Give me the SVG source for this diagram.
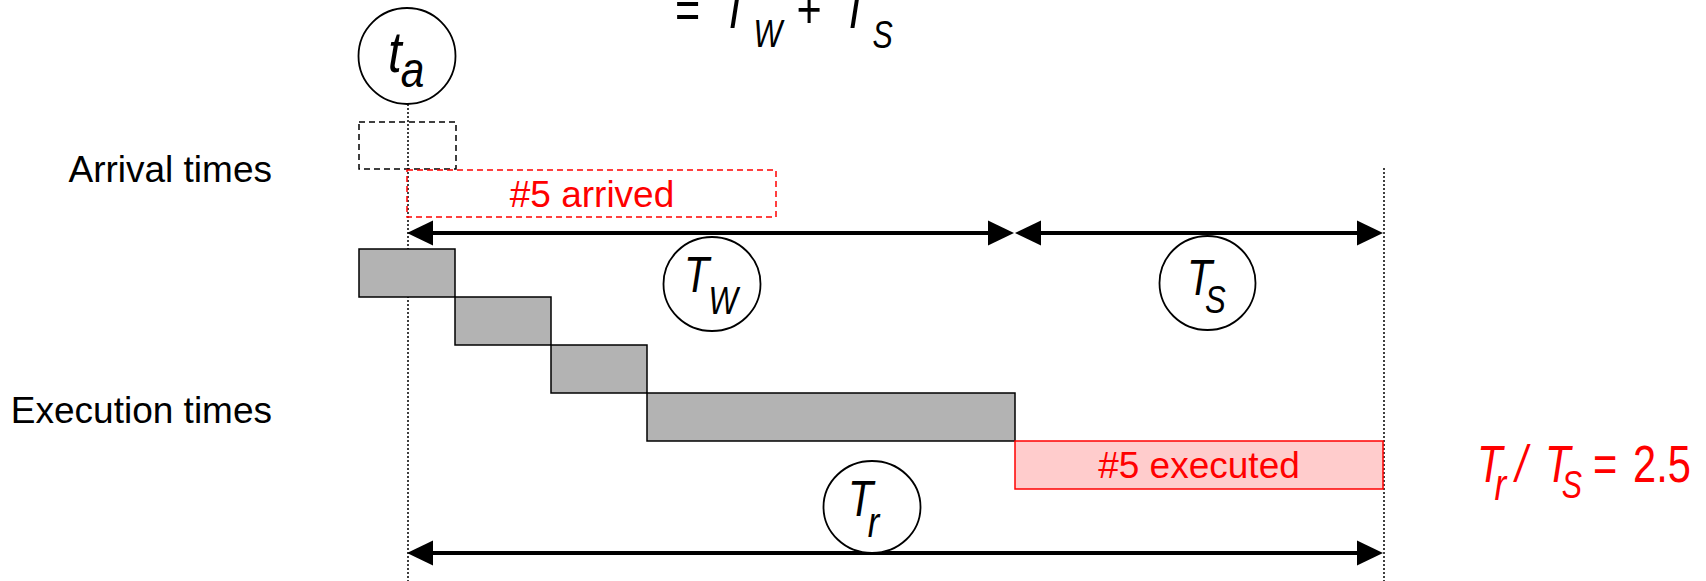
<svg xmlns="http://www.w3.org/2000/svg" width="1706" height="581" viewBox="0 0 1706 581">
<defs>
<style>
.lbl{font-family:"Liberation Sans",Arial,sans-serif;font-size:37px;fill:#000}
.math{font-family:"Liberation Sans",Arial,sans-serif;font-style:italic;fill:#000}
.up{font-style:normal}
.red{fill:#ff0000}
.bar{fill:#b3b3b3;stroke:#000;stroke-width:1.5}
.circ{fill:#fff;stroke:#000;stroke-width:1.8}
.dot{stroke:#000;stroke-width:1.5;stroke-dasharray:2,2;fill:none}
.arr{stroke:#000;stroke-width:4;fill:none;marker-start:url(#ah);marker-end:url(#ah)}
</style>
<marker id="ah" markerUnits="userSpaceOnUse" markerWidth="26" markerHeight="26" viewBox="0 0 26 26" refX="18" refY="13" orient="auto-start-reverse">
<path d="M0,0.5 L26,13 L0,25.5 Z" fill="#000"/>
</marker>
</defs>
<rect width="1706" height="581" fill="#fff"/>

<g id="guides">
<line class="dot" x1="408" y1="104" x2="408" y2="581"/>
<line class="dot" x1="1384" y1="168" x2="1384" y2="581"/>
</g>

<g id="formula-top">
<text class="math" transform="translate(675,28) scale(0.8,1)" font-size="54"><tspan class="up" x="0" y="0">=</tspan><tspan x="58" y="0">T</tspan><tspan x="98" y="19" font-size="38">W</tspan><tspan class="up" x="152" y="0">+</tspan><tspan x="208" y="0">T</tspan><tspan x="247" y="20" font-size="38">S</tspan></text>
</g>

<g id="label-arrival"><text class="lbl" x="272" y="182" text-anchor="end">Arrival times</text></g>
<g id="label-execution"><text class="lbl" x="272" y="423" text-anchor="end">Execution times</text></g>

<g id="arrival-prev"><rect x="359" y="122" width="97" height="47" fill="none" stroke="#000" stroke-width="1.5" stroke-dasharray="6,4"/></g>
<g id="arrival-5">
<rect x="407" y="170" width="369" height="47" fill="none" stroke="#ff0000" stroke-width="1.5" stroke-dasharray="6,4"/>
<text class="lbl red" x="592" y="207" text-anchor="middle">#5 arrived</text>
</g>

<g id="exec-1"><rect class="bar" x="359" y="249" width="96" height="48"/></g>
<g id="exec-2"><rect class="bar" x="455" y="297" width="96" height="48"/></g>
<g id="exec-3"><rect class="bar" x="551" y="345" width="96" height="48"/></g>
<g id="exec-4"><rect class="bar" x="647" y="393" width="368" height="48"/></g>
<g id="exec-5">
<rect x="1015" y="441" width="368" height="48" fill="#ffcccc" stroke="#ff0000" stroke-width="1.5"/>
<text class="lbl red" x="1199" y="478" text-anchor="middle">#5 executed</text>
</g>

<g id="connectors">
<line class="arr" x1="415" y1="233" x2="1006" y2="233"/>
<line class="arr" x1="1023" y1="233" x2="1375" y2="233"/>
<line class="arr" x1="415" y1="553" x2="1375" y2="553"/>
</g>

<g id="ta">
<ellipse class="circ" cx="407" cy="56" rx="48.5" ry="48"/>
<text class="math" transform="translate(388,72) scale(0.85,1)" font-size="58"><tspan x="0" y="0">t</tspan><tspan x="15" y="15" font-size="50">a</tspan></text>
</g>
<g id="Tw">
<ellipse class="circ" cx="712" cy="284" rx="48.5" ry="47"/>
<text class="math" transform="translate(684,292) scale(0.82,1)" font-size="50"><tspan x="0" y="0">T</tspan><tspan x="30" y="22" font-size="38">W</tspan></text>
</g>
<g id="Ts">
<ellipse class="circ" cx="1207.5" cy="283" rx="48" ry="47"/>
<text class="math" transform="translate(1187,295) scale(0.82,1)" font-size="50"><tspan x="0" y="0">T</tspan><tspan x="22" y="18" font-size="38">S</tspan></text>
</g>
<g id="Tr">
<ellipse class="circ" cx="872" cy="507" rx="48.5" ry="46"/>
<text class="math" transform="translate(848,516) scale(0.82,1)" font-size="50"><tspan x="0" y="0">T</tspan><tspan x="24" y="21" font-size="42">r</tspan></text>
</g>

<g id="ratio">
<text class="math red" transform="translate(1477,482) scale(0.8,1)" font-size="52"><tspan x="0" y="0">T</tspan><tspan x="22" y="18" font-size="44">r</tspan><tspan x="48" y="0">/</tspan><tspan x="85" y="0">T</tspan><tspan x="106" y="16" font-size="38">S</tspan><tspan class="up" x="145" y="0">=</tspan><tspan class="up" x="195" y="0">2.5</tspan></text>
</g>
</svg>
